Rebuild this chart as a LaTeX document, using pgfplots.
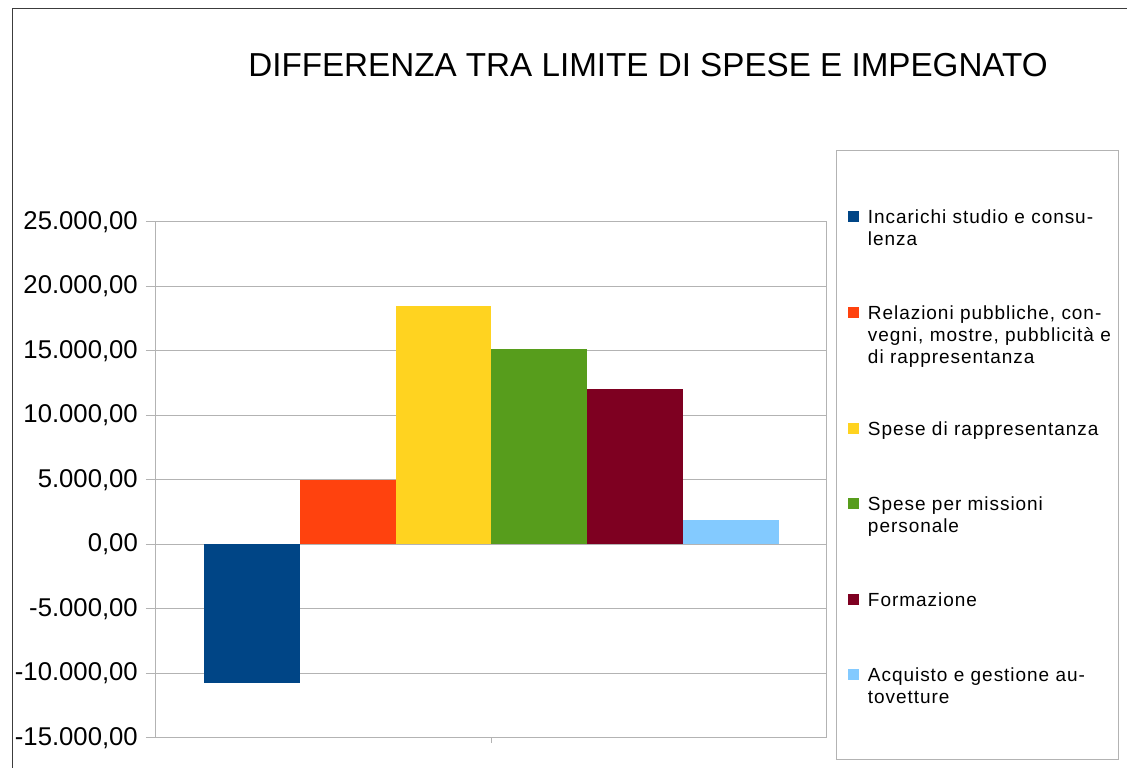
\documentclass[border=0pt]{standalone}
\usepackage{pgfplots}
\pgfplotsset{compat=1.18}
\usepackage{fontspec}
\setmainfont{Liberation Sans}
\newfontfamily\legfont[LetterSpace=5]{Liberation Sans}
\definecolor{c1}{HTML}{004586}
\definecolor{c2}{HTML}{FF420E}
\definecolor{c3}{HTML}{FFD320}
\definecolor{c4}{HTML}{579D1C}
\definecolor{c5}{HTML}{7E0021}
\definecolor{c6}{HTML}{83CAFF}
\definecolor{gridc}{HTML}{B3B3B3}
\definecolor{framec}{HTML}{3C3C3C}
\begin{document}
\begin{tikzpicture}[x=1pt,y=1pt]
\useasboundingbox (0,0) rectangle (1127,768);
\fill[white] (0,0) rectangle (1127,768);
\node[anchor=base, inner sep=0pt, font=\fontsize{33.2}{40}\selectfont] at (648,691) {DIFFERENZA TRA LIMITE DI SPESE E IMPEGNATO};
\draw[gridc, line width=1pt] (836,8) rectangle (1118,617);
\begin{axis}[
  at={(156pt,30pt)}, anchor=south west, scale only axis,
  width=671pt, height=516pt,
  xmin=0, xmax=7, ymin=-15000, ymax=25000,
  scaled y ticks=false,
  ytick={-15000,-10000,-5000,0,5000,10000,15000,20000,25000},
  yticklabels={{-15.000,00},{-10.000,00},{-5.000,00},{0,00},{5.000,00},{10.000,00},{15.000,00},{20.000,00},{25.000,00}},
  xtick={3.5}, xticklabels={},
  ymajorgrids, grid style={gridc, line width=1pt},
  axis line style={gridc, line width=1pt},
  tick style={gridc, line width=1pt},
  tick align=outside, major tick length=10pt,
  xtick style={/pgfplots/major tick length=5pt},
  ytick pos=left, xtick pos=bottom,
  yticklabel style={font=\fontsize{25.7}{30}\selectfont, anchor=east, inner sep=0pt, xshift=-8pt},
  mybar/.style={ybar, bar width=1, bar shift=0pt, draw=none, fill=#1,
    legend image code/.code={\fill[#1] (0pt,2pt) rectangle (11pt,13pt);}},
  legend style={draw=none, fill=none, inner sep=0pt, outer sep=0pt,
    at={(1.0313,1.0233)}, anchor=north west,
    font=\legfont\fontsize{19}{22}\selectfont,
    nodes={align=left, text width=250pt, inner sep=0pt, outer sep=0pt, text height=14pt, text depth=5pt},
    row sep=56pt, column sep=0pt,
    /tikz/every odd column/.append style={column sep=9pt}},
]
\addplot[mybar=c1] coordinates {(1,-10770)};
\addlegendentry[anchor=base west, text depth=26pt]{Incarichi studio e consu-\\lenza}
\addplot[mybar=c2] coordinates {(2,5000)};
\addlegendentry[anchor=base west, text depth=46pt]{Relazioni pubbliche, con-\\vegni, mostre, pubblicità e\\di rappresentanza}
\addplot[mybar=c3] coordinates {(3,18480)};
\addlegendentry[anchor=base west, text depth=5pt]{Spese di rappresentanza}
\addplot[mybar=c4] coordinates {(4,15180)};
\addlegendentry[anchor=base west, text depth=26pt]{Spese per missioni\\personale}
\addplot[mybar=c5] coordinates {(5,12020)};
\addlegendentry[anchor=base west, text depth=5pt]{Formazione}
\addplot[mybar=c6] coordinates {(6,1900)};
\addlegendentry[anchor=base west, text depth=26pt]{Acquisto e gestione au-\\tovetture}
\end{axis}
\draw[framec, line width=1pt] (12.5,0) -- (12.5,759) -- (1127,759);
\end{tikzpicture}
\end{document}
